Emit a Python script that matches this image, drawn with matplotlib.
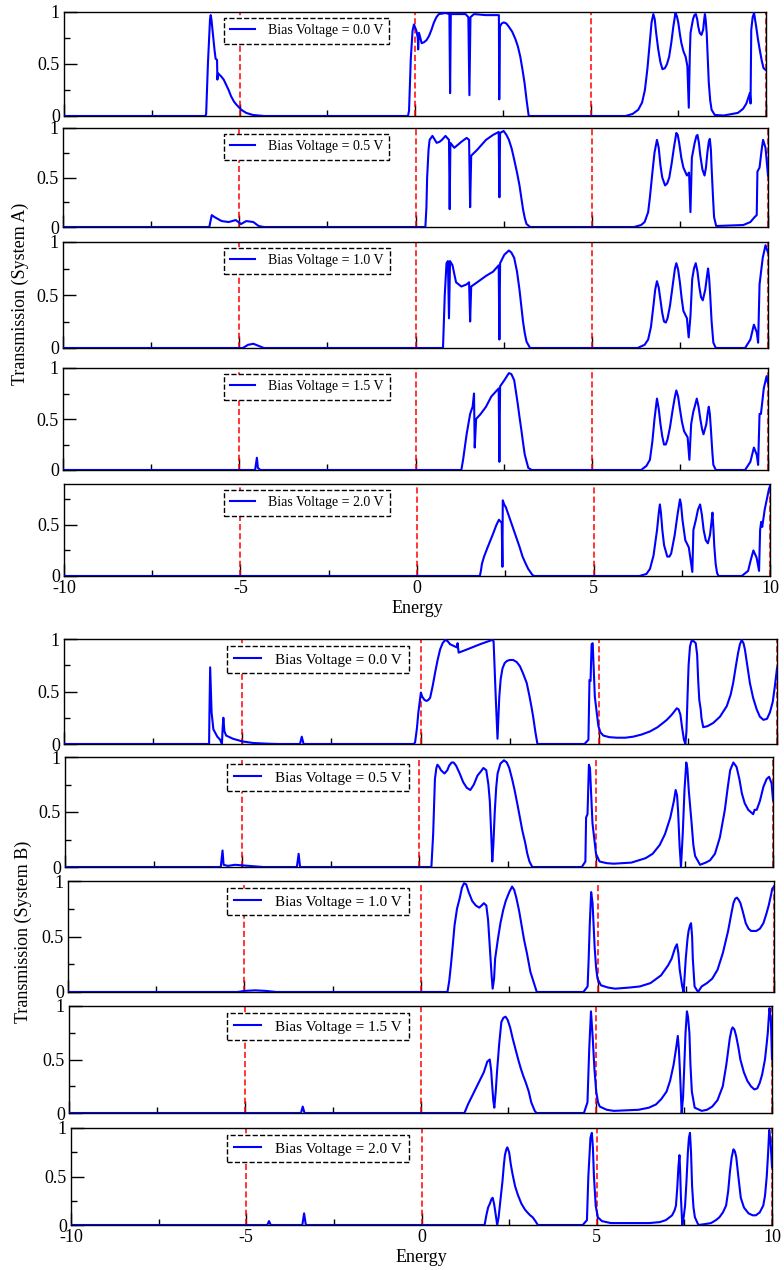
import matplotlib
matplotlib.use("Agg")
import matplotlib.pyplot as plt
from matplotlib.ticker import FixedLocator

plt.rcParams['font.family'] = ['Liberation Serif', 'DejaVu Serif']

# transmission curves, (energy, T) pairs
a1 = [(-10, 0), (-5.97, 0), (-5.95, 0.02), (-5.90, 0.5), (-5.84, 0.93), (-5.82, 0.97), (-5.80, 0.93),
      (-5.71, 0.63), (-5.68, 0.55), (-5.64, 0.54), (-5.63, 0.35), (-5.61, 0.41), (-5.52, 0.38), (-5.45, 0.35),
      (-5.38, 0.30), (-5.31, 0.25), (-5.24, 0.19), (-5.16, 0.14), (-5.09, 0.11), (-4.95, 0.06), (-4.81, 0.03),
      (-4.62, 0.01), (-4.3, 0), (-0.20, 0), (-0.17, 0.05), (-0.12, 0.55), (-0.07, 0.82), (-0.03, 0.88),
      (0.04, 0.82), (0.08, 0.75), (0.09, 0.64), (0.11, 0.80), (0.13, 0.78), (0.19, 0.70), (0.26, 0.71),
      (0.33, 0.73), (0.40, 0.77), (0.47, 0.83), (0.54, 0.90), (0.61, 0.95), (0.68, 0.98), (0.87, 0.99),
      (0.98, 0.98), (1.00, 0.22), (1.02, 0.98), (1.44, 0.98), (1.52, 0.95), (1.55, 0.20), (1.58, 0.95),
      (1.68, 0.98), (2.01, 0.97), (2.34, 0.97), (2.39, 0.97), (2.40, 0.16), (2.42, 0.86), (2.47, 0.89),
      (2.53, 0.90), (2.60, 0.89), (2.67, 0.86), (2.77, 0.81), (2.86, 0.74), (2.93, 0.67), (3.00, 0.57),
      (3.06, 0.45), (3.12, 0.32), (3.18, 0.15), (3.24, 0), (6.0, 0), (6.2, 0.02), (6.36, 0.06), (6.47, 0.13),
      (6.55, 0.25), (6.62, 0.45), (6.67, 0.64), (6.71, 0.80), (6.74, 0.90), (6.79, 0.98), (6.83, 0.93),
      (6.87, 0.80), (6.93, 0.64), (6.99, 0.52), (7.05, 0.45), (7.12, 0.46), (7.18, 0.50), (7.24, 0.57),
      (7.30, 0.70), (7.36, 0.86), (7.42, 0.99), (7.46, 0.96), (7.50, 0.90), (7.55, 0.78), (7.59, 0.70),
      (7.65, 0.62), (7.71, 0.57), (7.76, 0.48), (7.80, 0.08), (7.83, 0.60), (7.85, 0.80), (7.92, 0.93),
      (7.96, 0.97), (8.00, 0.98), (8.04, 0.93), (8.07, 0.86), (8.11, 0.80), (8.16, 0.78), (8.21, 0.83),
      (8.24, 0.93), (8.26, 0.98), (8.28, 0.93), (8.31, 0.80), (8.34, 0.55), (8.37, 0.32), (8.41, 0.15),
      (8.45, 0.06), (8.54, 0.01), (8.8, 0.005), (9.2, 0.03), (9.35, 0.07), (9.44, 0.12), (9.54, 0.22),
      (9.56, 0.12), (9.58, 0.83), (9.62, 0.95), (9.66, 0.99), (9.72, 0.86), (9.77, 0.74), (9.82, 0.64),
      (9.88, 0.53), (9.93, 0.46), (10, 0.44)]
a2 = [(-10, 0), (-5.85, 0), (-5.78, 0.12), (-5.7, 0.10), (-5.5, 0.06), (-5.3, 0.05), (-5.1, 0.07),
      (-4.95, 0.03), (-4.8, 0.06), (-4.6, 0.05), (-4.45, 0.01), (-4.3, 0), (0.28, 0), (0.31, 0.2),
      (0.33, 0.5), (0.37, 0.78), (0.40, 0.88), (0.48, 0.92), (0.55, 0.88), (0.60, 0.85), (0.68, 0.86),
      (0.75, 0.88), (0.85, 0.92), (0.95, 0.88), (0.97, 0.18), (0.99, 0.85), (1.10, 0.80), (1.3, 0.86),
      (1.45, 0.90), (1.52, 0.88), (1.55, 0.20), (1.58, 0.72), (1.75, 0.78), (2.0, 0.88), (2.2, 0.93),
      (2.36, 0.96), (2.38, 0.30), (2.40, 0.95), (2.5, 0.97), (2.58, 0.93), (2.65, 0.88), (2.73, 0.79),
      (2.8, 0.68), (2.88, 0.55), (2.95, 0.42), (3.0, 0.30), (3.05, 0.18), (3.1, 0.09), (3.15, 0.03),
      (3.25, 0), (6.2, 0), (6.4, 0.02), (6.5, 0.05), (6.6, 0.15), (6.65, 0.3), (6.72, 0.55), (6.78, 0.75),
      (6.85, 0.88), (6.9, 0.8), (6.95, 0.62), (7.0, 0.5), (7.08, 0.42), (7.14, 0.44), (7.2, 0.5),
      (7.27, 0.65), (7.33, 0.8), (7.40, 0.95), (7.44, 0.93), (7.48, 0.85), (7.54, 0.7), (7.6, 0.6),
      (7.7, 0.52), (7.76, 0.55), (7.80, 0.15), (7.84, 0.70), (7.92, 0.85), (7.97, 0.92), (8.0, 0.93),
      (8.04, 0.85), (8.08, 0.72), (8.14, 0.58), (8.2, 0.52), (8.24, 0.6), (8.28, 0.75), (8.32, 0.86),
      (8.35, 0.89), (8.38, 0.78), (8.40, 0.6), (8.44, 0.3), (8.47, 0.1), (8.53, 0.01), (9.3, 0.02),
      (9.5, 0.05), (9.62, 0.10), (9.68, 0.12), (9.70, 0.56), (9.76, 0.6), (9.82, 0.78), (9.86, 0.88),
      (9.93, 0.8), (10, 0.52)]
a3 = [(-10, 0), (-4.9, 0), (-4.75, 0.03), (-4.6, 0.04), (-4.45, 0.02), (-4.3, 0), (0.78, 0), (0.83, 0.5),
      (0.88, 0.8), (0.92, 0.82), (0.95, 0.28), (0.98, 0.82), (1.05, 0.78), (1.15, 0.62), (1.3, 0.58),
      (1.45, 0.6), (1.52, 0.62), (1.55, 0.25), (1.58, 0.58), (1.75, 0.62), (2.0, 0.68), (2.2, 0.72),
      (2.36, 0.78), (2.38, 0.08), (2.40, 0.80), (2.52, 0.88), (2.65, 0.92), (2.72, 0.90), (2.8, 0.85),
      (2.88, 0.72), (2.95, 0.55), (3.0, 0.40), (3.05, 0.25), (3.1, 0.14), (3.15, 0.06), (3.25, 0), (6.3, 0),
      (6.5, 0.03), (6.6, 0.08), (6.68, 0.2), (6.75, 0.4), (6.8, 0.55), (6.85, 0.63), (6.9, 0.57),
      (6.95, 0.45), (7.0, 0.33), (7.05, 0.25), (7.1, 0.24), (7.15, 0.28), (7.22, 0.4), (7.3, 0.6),
      (7.36, 0.75), (7.40, 0.80), (7.45, 0.74), (7.5, 0.62), (7.55, 0.47), (7.6, 0.35), (7.7, 0.28),
      (7.75, 0.1), (7.80, 0.3), (7.85, 0.65), (7.9, 0.75), (7.95, 0.8), (8.0, 0.72), (8.05, 0.58),
      (8.1, 0.48), (8.15, 0.45), (8.22, 0.55), (8.27, 0.68), (8.30, 0.75), (8.33, 0.66), (8.36, 0.5),
      (8.4, 0.25), (8.45, 0.05), (8.52, 0), (9.35, 0), (9.5, 0.08), (9.6, 0.22), (9.68, 0.15),
      (9.72, 0.05), (9.76, 0.6), (9.85, 0.85), (9.93, 0.97), (10, 0.9)]
a4 = [(-10, 0), (-4.55, 0), (-4.50, 0.12), (-4.47, 0.02), (-4.4, 0), (1.30, 0), (1.35, 0.1), (1.45, 0.35),
      (1.55, 0.55), (1.62, 0.62), (1.66, 0.75), (1.68, 0.22), (1.72, 0.5), (1.85, 0.55), (2.0, 0.62),
      (2.15, 0.72), (2.36, 0.80), (2.38, 0.08), (2.40, 0.82), (2.52, 0.88), (2.65, 0.95), (2.72, 0.94),
      (2.8, 0.88), (2.9, 0.65), (2.95, 0.52), (3.0, 0.4), (3.05, 0.27), (3.1, 0.15), (3.2, 0.02), (3.3, 0),
      (6.4, 0), (6.55, 0.04), (6.65, 0.1), (6.72, 0.28), (6.78, 0.5), (6.85, 0.7), (6.9, 0.6), (6.95, 0.45),
      (7.0, 0.33), (7.05, 0.25), (7.1, 0.25), (7.15, 0.3), (7.22, 0.42), (7.3, 0.6), (7.36, 0.72),
      (7.40, 0.78), (7.45, 0.72), (7.5, 0.6), (7.56, 0.47), (7.62, 0.38), (7.72, 0.32), (7.77, 0.1),
      (7.82, 0.45), (7.88, 0.57), (7.92, 0.62), (7.98, 0.7), (8.03, 0.62), (8.08, 0.5), (8.13, 0.4),
      (8.17, 0.35), (8.25, 0.45), (8.29, 0.56), (8.32, 0.62), (8.35, 0.55), (8.38, 0.4), (8.42, 0.18),
      (8.45, 0.05), (8.52, 0), (9.35, 0), (9.5, 0.08), (9.6, 0.22), (9.68, 0.15), (9.72, 0.05),
      (9.76, 0.55), (9.8, 0.55), (9.88, 0.8), (9.96, 0.92), (10, 0.85)]
a5 = [(-10, 0), (1.78, 0), (1.81, 0.05), (1.84, 0.12), (1.90, 0.19), (2.0, 0.28), (2.14, 0.40), (2.25, 0.5),
      (2.32, 0.55), (2.40, 0.52), (2.42, 0.09), (2.43, 0.74), (2.47, 0.70), (2.52, 0.67), (2.65, 0.54),
      (2.78, 0.41), (2.9, 0.29), (2.99, 0.19), (3.08, 0.12), (3.15, 0.07), (3.27, 0.01), (3.32, 0),
      (6.3, 0), (6.5, 0.02), (6.6, 0.07), (6.7, 0.2), (6.8, 0.45), (6.85, 0.62), (6.88, 0.70), (6.91, 0.62),
      (6.95, 0.45), (7.0, 0.3), (7.09, 0.19), (7.15, 0.19), (7.2, 0.22), (7.3, 0.4), (7.38, 0.6),
      (7.45, 0.75), (7.48, 0.7), (7.52, 0.55), (7.6, 0.35), (7.7, 0.28), (7.80, 0.04), (7.83, 0.45),
      (7.9, 0.55), (7.96, 0.65), (8.02, 0.70), (8.07, 0.6), (8.12, 0.45), (8.18, 0.35), (8.24, 0.32),
      (8.30, 0.4), (8.34, 0.52), (8.37, 0.62), (8.40, 0.45), (8.42, 0.3), (8.46, 0.12), (8.50, 0.03),
      (8.54, 0), (9.2, 0), (9.38, 0.05), (9.45, 0.15), (9.53, 0.25), (9.62, 0.18), (9.69, 0.05),
      (9.72, 0.45), (9.75, 0.53), (9.78, 0.48), (9.85, 0.65), (9.97, 0.85), (10, 0.88)]

b1 = [(-10, 0), (-5.93, 0), (-5.92, 0.3), (-5.90, 0.73), (-5.86, 0.3), (-5.81, 0.14), (-5.70, 0.07),
      (-5.62, 0.04), (-5.57, 0.0), (-5.55, 0.15), (-5.53, 0.25), (-5.50, 0.12), (-5.45, 0.08),
      (-5.26, 0.05), (-5.0, 0.025), (-4.7, 0.01), (-4.3, 0.003), (-4.0, 0), (-3.38, 0), (-3.33, 0.07),
      (-3.28, 0), (-0.18, 0), (-0.15, 0.02), (-0.10, 0.15), (-0.06, 0.30), (0.01, 0.49), (0.05, 0.45),
      (0.11, 0.42), (0.17, 0.41), (0.22, 0.42), (0.27, 0.44), (0.34, 0.55), (0.41, 0.68), (0.48, 0.80),
      (0.55, 0.90), (0.62, 0.96), (0.69, 0.99), (0.76, 0.98), (0.83, 0.95), (1.02, 0.92), (1.04, 0.96),
      (1.07, 0.87), (1.30, 0.90), (1.67, 0.95), (2.00, 0.99), (2.05, 0.98), (2.11, 0.45), (2.16, 0.05),
      (2.21, 0.45), (2.25, 0.62), (2.30, 0.72), (2.36, 0.77), (2.42, 0.79), (2.50, 0.80), (2.60, 0.80),
      (2.70, 0.78), (2.79, 0.74), (2.88, 0.67), (2.98, 0.58), (3.06, 0.45), (3.12, 0.34), (3.16, 0.26),
      (3.22, 0.12), (3.28, 0), (4.6, 0), (4.71, 0.04), (4.74, 0.61), (4.77, 0.60), (4.80, 0.95),
      (4.83, 0.96), (4.89, 0.45), (4.99, 0.17), (5.05, 0.11), (5.13, 0.08), (5.30, 0.065), (5.50, 0.06),
      (5.75, 0.06), (5.97, 0.07), (6.20, 0.09), (6.44, 0.12), (6.65, 0.16), (6.80, 0.20), (6.91, 0.23),
      (7.05, 0.28), (7.19, 0.34), (7.24, 0.33), (7.29, 0.28), (7.34, 0.15), (7.39, 0.04), (7.43, 0),
      (7.46, 0.12), (7.49, 0.45), (7.52, 0.75), (7.56, 0.93), (7.60, 0.98), (7.66, 0.98), (7.72, 0.96),
      (7.76, 0.85), (7.79, 0.60), (7.82, 0.42), (7.86, 0.33), (7.88, 0.25), (7.93, 0.16), (8.05, 0.17),
      (8.21, 0.20), (8.40, 0.26), (8.59, 0.36), (8.70, 0.47), (8.77, 0.58), (8.85, 0.75), (8.91, 0.87),
      (8.96, 0.95), (9.01, 0.99), (9.06, 0.96), (9.10, 0.90), (9.17, 0.74), (9.24, 0.58), (9.33, 0.44),
      (9.43, 0.33), (9.52, 0.26), (9.62, 0.23), (9.72, 0.24), (9.80, 0.30), (9.88, 0.40), (9.94, 0.55),
      (10, 0.72)]
b2 = [(-10, 0), (-5.6, 0), (-5.55, 0.15), (-5.52, 0.02), (-5.4, 0.01), (-5.2, 0.02), (-4.8, 0.01),
      (-4.4, 0), (-3.45, 0), (-3.4, 0.12), (-3.36, 0), (0.35, 0), (0.40, 0.3), (0.45, 0.8), (0.49, 0.9),
      (0.52, 0.93), (0.57, 0.91), (0.62, 0.88), (0.72, 0.85), (0.8, 0.88), (0.85, 0.92), (0.92, 0.95),
      (0.98, 0.95), (1.05, 0.92), (1.15, 0.85), (1.25, 0.77), (1.35, 0.72), (1.45, 0.70), (1.55, 0.75),
      (1.65, 0.83), (1.75, 0.87), (1.82, 0.9), (1.9, 0.88), (1.96, 0.75), (2.0, 0.6), (2.04, 0.3),
      (2.07, 0.05), (2.1, 0.2), (2.14, 0.5), (2.18, 0.72), (2.22, 0.85), (2.3, 0.94), (2.4, 0.97),
      (2.48, 0.95), (2.55, 0.9), (2.63, 0.8), (2.7, 0.7), (2.78, 0.57), (2.85, 0.45), (2.92, 0.33),
      (3.0, 0.22), (3.06, 0.12), (3.12, 0.05), (3.2, 0), (4.6, 0), (4.70, 0.05), (4.72, 0.45),
      (4.76, 0.48), (4.80, 0.93), (4.83, 0.9), (4.9, 0.4), (5.0, 0.12), (5.1, 0.05), (5.3, 0.035),
      (5.5, 0.03), (6.0, 0.04), (6.4, 0.08), (6.6, 0.12), (6.8, 0.2), (6.95, 0.3), (7.1, 0.45), (7.2, 0.6),
      (7.25, 0.70), (7.29, 0.65), (7.32, 0.5), (7.36, 0.2), (7.40, 0.0), (7.45, 0.3), (7.5, 0.7),
      (7.55, 0.95), (7.58, 0.9), (7.62, 0.7), (7.7, 0.4), (7.75, 0.2), (7.8, 0.1), (7.94, 0.02),
      (8.1, 0.04), (8.22, 0.06), (8.36, 0.12), (8.50, 0.27), (8.64, 0.52), (8.72, 0.72), (8.79, 0.88),
      (8.88, 0.95), (8.97, 0.91), (9.05, 0.8), (9.12, 0.67), (9.20, 0.58), (9.30, 0.52), (9.44, 0.48),
      (9.48, 0.52), (9.54, 0.52), (9.63, 0.6), (9.73, 0.73), (9.82, 0.80), (9.89, 0.82), (9.96, 0.76),
      (10, 0.61)]
b3 = [(-10, 0), (-5.2, 0), (-5.0, 0.01), (-4.7, 0.015), (-4.4, 0.01), (-4.1, 0), (0.75, 0), (0.8, 0.1),
      (0.85, 0.25), (0.9, 0.42), (0.95, 0.6), (1.02, 0.75), (1.1, 0.85), (1.16, 0.94), (1.22, 0.98),
      (1.28, 0.97), (1.35, 0.9), (1.45, 0.82), (1.55, 0.78), (1.65, 0.76), (1.72, 0.78), (1.78, 0.8),
      (1.85, 0.78), (1.9, 0.65), (1.95, 0.4), (2.0, 0.15), (2.03, 0.03), (2.07, 0.12), (2.1, 0.3),
      (2.18, 0.48), (2.25, 0.62), (2.33, 0.74), (2.4, 0.82), (2.5, 0.9), (2.58, 0.95), (2.64, 0.92),
      (2.7, 0.85), (2.78, 0.73), (2.85, 0.6), (2.92, 0.47), (3.0, 0.35), (3.1, 0.18), (3.2, 0.08),
      (3.28, 0), (4.6, 0), (4.72, 0.05), (4.75, 0.3), (4.78, 0.6), (4.82, 0.9), (4.86, 0.8), (4.92, 0.4),
      (4.96, 0.22), (5.0, 0.12), (5.1, 0.06), (5.3, 0.04), (5.5, 0.03), (5.9, 0.04), (6.2, 0.05),
      (6.5, 0.08), (6.8, 0.15), (7.0, 0.24), (7.1, 0.3), (7.2, 0.4), (7.25, 0.43), (7.29, 0.35),
      (7.33, 0.2), (7.40, 0.05), (7.44, 0.0), (7.47, 0.15), (7.5, 0.3), (7.55, 0.48), (7.58, 0.55),
      (7.62, 0.6), (7.65, 0.62), (7.68, 0.5), (7.70, 0.3), (7.75, 0.05), (7.85, 0.0), (7.95, 0.05),
      (8.1, 0.08), (8.25, 0.12), (8.4, 0.2), (8.55, 0.35), (8.7, 0.55), (8.8, 0.72), (8.85, 0.8),
      (8.9, 0.84), (8.95, 0.85), (9.0, 0.83), (9.05, 0.8), (9.12, 0.72), (9.2, 0.62), (9.28, 0.57),
      (9.35, 0.55), (9.5, 0.55), (9.6, 0.57), (9.7, 0.62), (9.78, 0.7), (9.85, 0.78), (9.92, 0.88),
      (9.95, 0.93), (10, 0.95)]
b4 = [(-10, 0), (-3.4, 0), (-3.35, 0.06), (-3.3, 0), (1.25, 0), (1.35, 0.08), (1.5, 0.18), (1.65, 0.28),
      (1.8, 0.38), (1.9, 0.48), (1.97, 0.5), (2.01, 0.4), (2.03, 0.3), (2.07, 0.12), (2.1, 0.05),
      (2.14, 0.2), (2.18, 0.4), (2.24, 0.65), (2.3, 0.85), (2.36, 0.89), (2.42, 0.9), (2.48, 0.87),
      (2.55, 0.8), (2.62, 0.7), (2.7, 0.6), (2.78, 0.5), (2.85, 0.42), (2.92, 0.35), (3.0, 0.28),
      (3.08, 0.2), (3.15, 0.1), (3.25, 0.02), (3.3, 0), (4.65, 0), (4.75, 0.1), (4.8, 0.6), (4.85, 0.95),
      (4.9, 0.7), (4.95, 0.4), (5.0, 0.2), (5.05, 0.1), (5.1, 0.06), (5.3, 0.03), (5.5, 0.02), (6.2, 0.03),
      (6.5, 0.05), (6.7, 0.08), (6.85, 0.13), (7.0, 0.2), (7.1, 0.3), (7.2, 0.45), (7.27, 0.6),
      (7.32, 0.72), (7.35, 0.6), (7.38, 0.4), (7.43, 0.0), (7.47, 0.15), (7.5, 0.4), (7.54, 0.75),
      (7.58, 0.95), (7.61, 0.9), (7.65, 0.75), (7.68, 0.45), (7.72, 0.2), (7.8, 0.05), (8.0, 0.02),
      (8.15, 0.03), (8.3, 0.06), (8.45, 0.12), (8.6, 0.25), (8.7, 0.45), (8.8, 0.7), (8.85, 0.78),
      (8.88, 0.8), (8.93, 0.78), (8.98, 0.72), (9.04, 0.62), (9.1, 0.5), (9.2, 0.38), (9.3, 0.3),
      (9.4, 0.25), (9.5, 0.22), (9.58, 0.23), (9.65, 0.28), (9.72, 0.36), (9.8, 0.5), (9.85, 0.65),
      (9.88, 0.75), (9.91, 0.9), (9.93, 0.98), (9.97, 0.85), (10, 0.5)]
b5 = [(-10, 0), (-4.4, 0), (-4.35, 0.04), (-4.3, 0), (-3.4, 0), (-3.35, 0.12), (-3.3, 0), (1.8, 0),
      (1.85, 0.1), (1.9, 0.18), (1.95, 0.22), (2.0, 0.27), (2.03, 0.28), (2.07, 0.22), (2.1, 0.15),
      (2.16, 0.0), (2.2, 0.08), (2.25, 0.25), (2.31, 0.45), (2.35, 0.62), (2.38, 0.72), (2.42, 0.78),
      (2.45, 0.8), (2.5, 0.75), (2.55, 0.62), (2.6, 0.52), (2.67, 0.4), (2.75, 0.31), (2.85, 0.22),
      (2.95, 0.16), (3.02, 0.13), (3.1, 0.1), (3.17, 0.08), (3.25, 0.04), (3.32, 0), (4.6, 0), (4.72, 0.05),
      (4.76, 0.5), (4.82, 0.9), (4.86, 0.95), (4.89, 0.8), (4.92, 0.5), (4.97, 0.2), (5.03, 0.08),
      (5.15, 0.04), (5.4, 0.02), (6.5, 0.02), (6.8, 0.03), (6.97, 0.05), (7.08, 0.08), (7.15, 0.1),
      (7.22, 0.15), (7.26, 0.2), (7.3, 0.4), (7.33, 0.6), (7.36, 0.72), (7.38, 0.55), (7.40, 0.3),
      (7.44, 0.0), (7.48, 0.08), (7.52, 0.2), (7.56, 0.45), (7.6, 0.75), (7.63, 0.9), (7.66, 0.95),
      (7.69, 0.75), (7.72, 0.4), (7.76, 0.18), (7.80, 0.08), (7.9, 0.0), (8.1, 0.01), (8.26, 0.02),
      (8.4, 0.05), (8.5, 0.08), (8.6, 0.13), (8.69, 0.2), (8.75, 0.35), (8.8, 0.55), (8.85, 0.7),
      (8.9, 0.78), (8.94, 0.76), (8.98, 0.7), (9.04, 0.5), (9.11, 0.28), (9.2, 0.18), (9.33, 0.12),
      (9.45, 0.1), (9.54, 0.1), (9.65, 0.13), (9.75, 0.2), (9.8, 0.3), (9.85, 0.5), (9.89, 0.75),
      (9.92, 0.98), (9.96, 0.85), (10, 0.6)]

curves_a = [a1, a2, a3, a4, a5]
curves_b = [b1, b2, b3, b4, b5]
biases = ['0.0', '0.5', '1.0', '1.5', '2.0']
ref_lines = [-10, -5, 0, 5, 10]
xticks = [-10, -5, 0, 5, 10]
xticklabels = ['-10', '-5', '0', '5', '10']
yticks = [0, 0.5, 1]
yticklabels = ['0', '0.5', '1']

W, H = 784, 1270
fig = plt.figure(figsize=(W / 100, H / 100), dpi=100)

# panel boxes in pixels: left, top, right, bottom
boxes_a = [(64, 12, 766, 116), (63, 128, 768, 227), (63, 242, 768, 348),
           (63, 368, 768, 470), (64, 484, 770, 576)]
boxes_b = [(64, 639, 777, 744), (65, 757, 773, 867), (68, 881, 774, 992),
           (69, 1006, 772, 1113), (71, 1128, 772, 1225)]
ytops_a = [1, 1, 1, 1, 0.9]
ytops_b = [1, 1, 1, 1, 1]


def panel(box, data, bias, ytop, last, fs_leg, leg_box):
    l, t, r, b = box
    ax = fig.add_axes([l / W, 1 - b / H, (r - l) / W, (b - t) / H])
    e = [p[0] for p in data]
    tr = [p[1] for p in data]
    ax.plot(e, tr, color='#0000ff', lw=1.5, label='Bias Voltage = %s V' % bias, zorder=3)
    for xv in ref_lines:
        ax.axvline(xv, color='red', lw=1.1, linestyle=(0, (4, 2)), zorder=2)
    ax.set_xlim(-10, 10)
    ax.set_ylim(0, ytop)
    ax.xaxis.set_major_locator(FixedLocator(xticks))
    ax.xaxis.set_minor_locator(FixedLocator([-7.5, -2.5, 2.5, 7.5]))
    ax.yaxis.set_major_locator(FixedLocator(yticks))
    ax.yaxis.set_minor_locator(FixedLocator([0.25, 0.75]))
    ax.set_yticklabels(yticklabels)
    ax.tick_params(which='major', direction='in', length=9, width=1, labelsize=13, pad=3)
    ax.tick_params(which='minor', direction='in', length=4.5, width=1)
    if last:
        ax.set_xticklabels(xticklabels)
        ax.set_xlabel('Energy', fontsize=13, labelpad=2)
    else:
        ax.tick_params(labelbottom=False)
    for s in ax.spines.values():
        s.set_linewidth(1.0)
    leg = ax.legend(loc='upper left', bbox_to_anchor=(leg_box[0] / W, 1 - leg_box[1] / H),
                    bbox_transform=fig.transFigure, fontsize=fs_leg, frameon=True, fancybox=False,
                    borderpad=0.45, borderaxespad=0, handlelength=1.8, handletextpad=0.9)
    fr = leg.get_frame()
    fr.set_edgecolor('black')
    fr.set_linestyle('--')
    fr.set_linewidth(1.0)
    fr.set_alpha(1)
    return ax


for i in range(5):
    l, t, r, b = boxes_a[i]
    panel(boxes_a[i], curves_a[i], biases[i], ytops_a[i], i == 4, 10, (224, t + 6))
for i in range(5):
    l, t, r, b = boxes_b[i]
    panel(boxes_b[i], curves_b[i], biases[i], ytops_b[i], i == 4, 11, (227, t + 7))

fig.text(20 / W, 1 - 294 / H, 'Transmission (System A)', rotation=90, ha='center', va='center', fontsize=13)
fig.text(23 / W, 1 - 932 / H, 'Transmission (System B)', rotation=90, ha='center', va='center', fontsize=13)

fig.savefig('out.png', dpi=100)
